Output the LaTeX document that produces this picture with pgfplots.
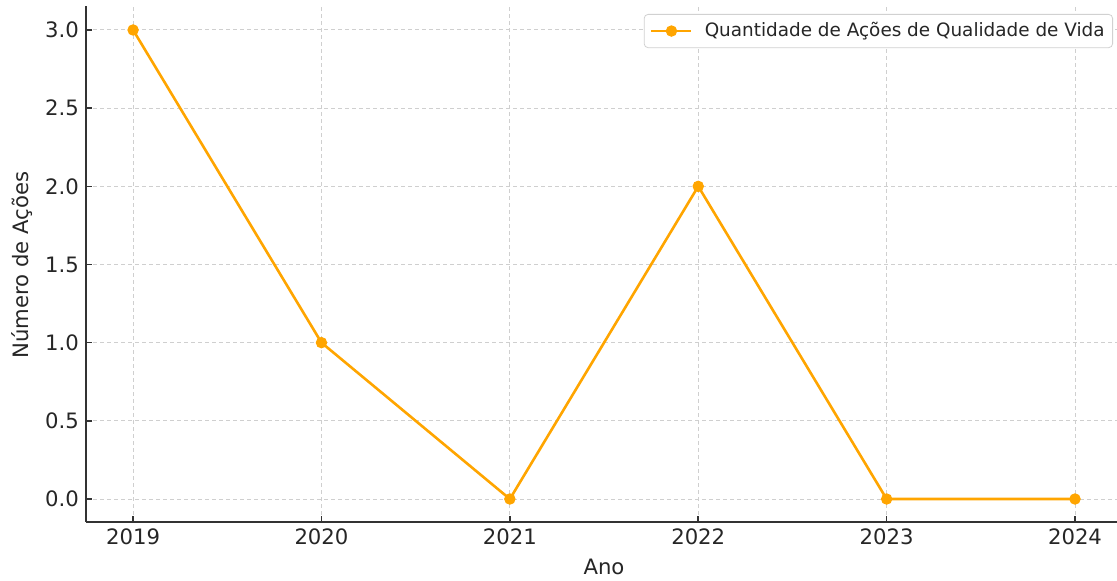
\documentclass[border=0pt]{standalone}
\usepackage{fontspec}
\setmainfont{DejaVu Sans}
\usepackage{pgfplots}
\pgfplotsset{compat=1.18}
\definecolor{orangeC}{HTML}{FFA500}
\definecolor{gridC}{HTML}{CFCFCF}
\definecolor{spineC}{HTML}{333333}
\definecolor{textC}{HTML}{262626}
\begin{document}
\begin{tikzpicture}[x=1pt,y=1pt]
\useasboundingbox (0,0) rectangle (558.5,290.5);
\clip (0,0) rectangle (558.5,290.5);
\begin{axis}[
  at={(43pt,29.5pt)}, anchor=south west,
  scale only axis, width=522.75pt, height=258pt,
  xmin=2018.75, xmax=2024.3, ymin=-0.147, ymax=3.1535,
  axis x line*=bottom, axis y line*=left,
  axis line style={spineC, line width=0.9pt, -},
  xtick={2019,2020,2021,2022,2023,2024},
  ytick={0,0.5,1,1.5,2,2.5,3},
  /pgf/number format/assume math mode=true,
  xticklabel style={/pgf/number format/1000 sep={}, font=\fontsize{10.6}{12}\selectfont, text=textC},
  yticklabel style={/pgf/number format/.cd, fixed, fixed zerofill, precision=1, /tikz/.cd, font=\fontsize{10.6}{12}\selectfont, text=textC},
  tick align=inside, major tick length=3pt,
  tick style={spineC, line width=0.8pt},
  grid=major, grid style={gridC, dash pattern=on 2.2pt off 1.3pt, line width=0.5pt},
  legend style={at={(0.9823,0.9845)}, anchor=north east, draw=black!18, rounded corners=2pt,
    font=\fontsize{9.2}{11}\selectfont, text=textC, inner sep=2pt},
  legend cell align=left,
  legend image code/.code={\path (-1pt,0pt) (24pt,0pt);\draw[mark repeat=2,mark phase=2,#1] plot coordinates {(0pt,0pt) (10pt,0pt) (20pt,0pt)};},
]
\addplot[orangeC, line width=1.3pt, mark=*, mark size=2.6pt, mark options={solid, fill=orangeC, line width=0.5pt}]
  coordinates {(2019,3) (2020,1) (2021,0) (2022,2) (2023,0) (2024,0)};
\addlegendentry{Quantidade de Ações de Qualidade de Vida}
\end{axis}
\node[anchor=base, text=textC, font=\fontsize{10.6}{12}\selectfont] at (302,3) {Ano};
\node[rotate=90, text=textC, font=\fontsize{10.6}{12}\selectfont] at (11,158) {Número de Ações};
\end{tikzpicture}
\end{document}
